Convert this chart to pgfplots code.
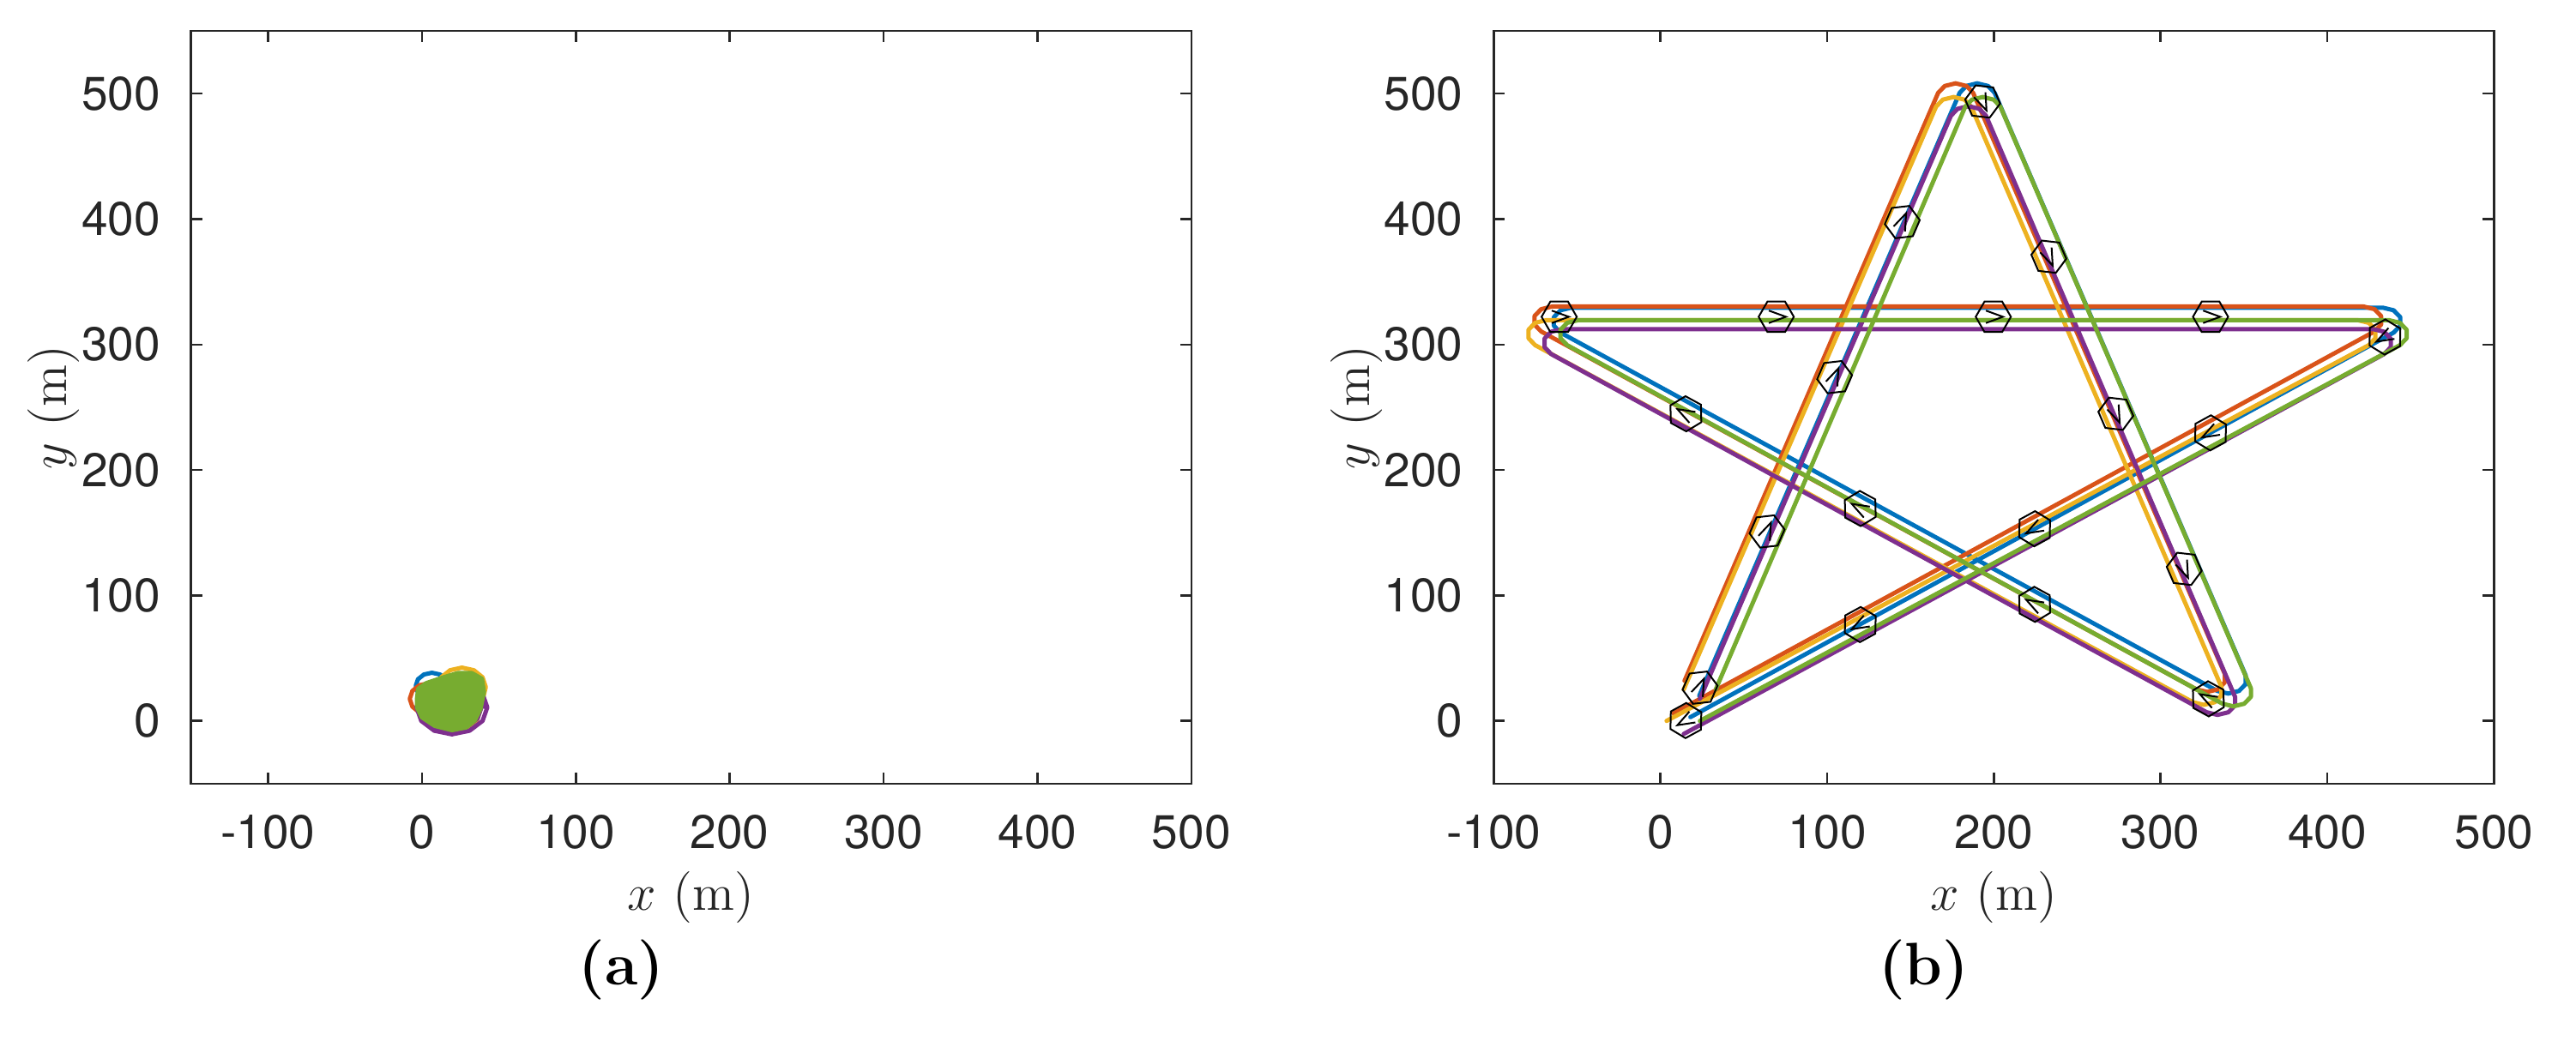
\documentclass[border=0pt]{standalone}
\usepackage{fontspec}
\usepackage{pgfplots}
\pgfplotsset{compat=1.18}
\newfontfamily\heros{TeX Gyre Heros}
\definecolor{mblue}{RGB}{0,114,189}
\definecolor{morange}{RGB}{217,83,25}
\definecolor{myellow}{RGB}{237,177,32}
\definecolor{mpurple}{RGB}{126,47,142}
\definecolor{mgreen}{RGB}{119,172,48}
\definecolor{axgray}{RGB}{38,38,38}

% UAV glyph: hexagon with a heading chevron
\pgfdeclareplotmark{uav}{%
  \pgfpathmoveto{\pgfqpointpolar{0}{\pgfplotmarksize}}%
  \pgfpathlineto{\pgfqpointpolar{60}{\pgfplotmarksize}}%
  \pgfpathlineto{\pgfqpointpolar{120}{\pgfplotmarksize}}%
  \pgfpathlineto{\pgfqpointpolar{180}{\pgfplotmarksize}}%
  \pgfpathlineto{\pgfqpointpolar{240}{\pgfplotmarksize}}%
  \pgfpathlineto{\pgfqpointpolar{300}{\pgfplotmarksize}}%
  \pgfpathclose
  \pgfpathmoveto{\pgfqpointpolar{140}{0.55\pgfplotmarksize}}%
  \pgfpathlineto{\pgfqpointpolar{0}{0.55\pgfplotmarksize}}%
  \pgfpathlineto{\pgfqpointpolar{220}{0.55\pgfplotmarksize}}%
  \pgfusepathqstroke
}

\pgfplotsset{
  mstyle/.style={
    scale only axis, width=233pt, height=175.4pt,
    ymin=-50, ymax=550,
    ytick={0,100,200,300,400,500}, yticklabels={0,100,200,300,400,500},
    xtick={-100,0,100,200,300,400,500}, xticklabels={-100,0,100,200,300,400,500},
    tick align=inside, major tick length=2.6pt,
    axis line style={draw=axgray, line width=0.5pt},
    every tick/.style={draw=axgray, line width=0.5pt},
    ticklabel style={font=\fontsize{11}{13}\heros, text=axgray},
    yticklabel style={xshift=-3.6pt},
    xticklabel style={yshift=-3.7pt},
    xlabel={$x$ (m)}, ylabel={$y$ (m)},
    label style={font=\fontsize{12}{14}\selectfont, text=axgray},
    xlabel style={at={(axis description cs:0.5,-0.151)}, anchor=center},
    ylabel style={at={(axis description cs:-0.1374,0.5)}, anchor=center},
    title style={font=\fontsize{14}{16}\selectfont\bfseries, at={(axis description cs:0.43,-0.2815)}, anchor=center},
  },
  traj/.style={line width=1.0pt, line join=round, line cap=round},
  uavs/.style={only marks, mark=uav, mark size=4.1pt, black, line width=0.4pt},
}

\begin{document}
\begin{tikzpicture}
\useasboundingbox (0,0) rectangle (600pt,245.2pt);

% (a) loitering near the origin
\begin{axis}[mstyle, at={(44.5pt,62.6pt)}, anchor=south west,
  xmin=-150, xmax=500, title={(a)}]
  \addplot[traj, mblue] coordinates {
    (17.0,27.9) (15.6,33.2) (11.8,37.0) (6.5,38.4) (1.3,37.0) (-2.6,33.2) (-4.0,27.9)
    (-2.6,22.7) (1.3,18.8) (6.5,17.4) (11.8,18.8) (15.6,22.7) (17.0,27.9)
    (37,15) (34.7,23.5) (28.5,29.7) (20,32) (11.5,29.7) (5.3,23.5) (3,15)
    (5.3,6.5) (11.5,0.3) (20,-2) (28.5,0.3) (34.7,6.5) (37,15)
  };
  \addplot[traj, morange] coordinates {
    (17.1,17.6) (15.4,23.9) (10.9,28.4) (4.6,30.1) (-1.7,28.4) (-6.2,23.9) (-7.9,17.6)
    (-6.2,11.4) (-1.7,6.8) (4.6,5.1) (10.9,6.8) (15.4,11.4) (17.1,17.6)
    (34,20) (32.1,27) (27,32.1) (20,34) (13,32.1) (7.9,27) (6,20)
    (7.9,13) (13,7.9) (20,6) (27,7.9) (32.1,13) (34,20)
  };
  \addplot[traj, myellow] coordinates {
    (41.5,27) (39.4,34.8) (33.8,40.4) (26,42.5) (18.3,40.4) (12.6,34.8) (10.5,27)
    (12.6,19.3) (18.3,13.6) (26,11.5) (33.8,13.6) (39.4,19.3) (41.5,27)
    (38,9) (35.5,18.5) (28.5,25.5) (19,28) (9.5,25.5) (2.5,18.5) (0,9)
    (2.5,-0.5) (9.5,-7.5) (19,-10) (28.5,-7.5) (35.5,-0.5) (38,9)
  };
  \addplot[traj, mpurple] coordinates {
    (42.5,10.8) (39.4,21.6) (31.0,29.4) (19.5,32.3) (8.0,29.4) (-0.4,21.6) (-3.5,10.8)
    (-0.4,0.0) (8.0,-7.8) (19.5,-10.7) (31.0,-7.8) (39.4,0.0) (42.5,10.8)
    (39,12) (36.2,22) (28.5,29.3) (18,32) (7.5,29.3) (-0.2,22) (-3,12)
    (-0.2,2) (7.5,-5.3) (18,-8) (28.5,-5.3) (36.2,2) (39,12)
  };
  \addplot[traj, mgreen, fill=mgreen] coordinates {
    (-3.2,17.6) (-2.4,25.6) (2.8,30.1) (13.9,34.7) (23.2,38.1) (32.5,38.1)
    (39.0,33.6) (40.3,23.3) (38.1,9.6) (34.4,0.5) (28.8,-5.2) (19.5,-7.4)
    (8.4,-4.0) (0.0,2.8) (-3.2,10.8) (-3.2,17.6)
  };
\end{axis}

% (b) star-shaped formation flight
\begin{axis}[mstyle, at={(347.9pt,62.6pt)}, anchor=south west,
  xmin=-100, xmax=500, title={(b)}]
  \addplot[uavs, mark options={rotate=66.6}] coordinates {
    (23.8,26.5) (64.0,151.0) (104.5,274.0) (145.1,397.6)
  };
  \addplot[uavs, mark options={rotate=-66.6}] coordinates {
    (193.3,493.7) (233.0,370.0) (273.2,244.8) (314.2,121.2)
  };
  \addplot[uavs, mark options={rotate=151.3}] coordinates {
    (328.7,17.6) (224.5,92.9) (119.9,169.3) (15.3,244.8)
  };
  \addplot[uavs, mark options={rotate=0}] coordinates {
    (-60.7,322.1) (69.5,322.1) (199.7,322.1) (330.0,322.1)
  };
  \addplot[uavs, mark options={rotate=208.7}] coordinates {
    (434.6,306.0) (330.0,229.6) (224.5,153.2) (119.9,76.8) (15.3,0.3)
  };

  \addplot[traj, mblue] coordinates {
    (23.3,20.0) (179.5,500.6) (183.5,506.1) (190.0,508.2) (196.5,506.1) (200.5,500.6)
    (351.1,36.2) (351.1,29.4) (347.1,23.9) (340.6,21.8) (334.1,23.9)
    (-59.9,309.5) (-63.9,315.0) (-63.9,321.8) (-59.9,327.3) (-53.4,329.4)
    (433.3,329.4) (439.8,327.3) (443.8,321.8) (443.8,315.0) (439.8,309.5) (18.0,3.0)
  };
  \addplot[traj, morange] coordinates {
    (14.5,32.0) (166.6,500.6) (170.6,506.1) (177.1,508.2) (183.6,506.1) (187.6,500.6)
    (338.5,37.5) (338.5,30.7) (334.5,25.2) (328.0,23.1) (321.5,25.2)
    (-71.5,310.4) (-75.5,315.9) (-75.5,322.7) (-71.5,328.2) (-65.0,330.3)
    (421.8,330.3) (428.3,328.2) (432.3,322.7) (432.3,315.9) (428.3,310.4) (7.8,6.0)
  };
  \addplot[traj, myellow] coordinates {
    (14.0,25.1) (165.4,489.7) (169.4,495.2) (175.9,497.3) (182.4,495.2) (186.4,489.7)
    (336.5,27.2) (336.5,20.4) (332.5,14.9) (326.0,12.8) (319.5,14.9)
    (-75.1,299.5) (-79.1,305.0) (-79.1,311.8) (-75.1,317.3) (-68.6,319.4)
    (418.4,319.4) (424.9,317.3) (428.9,311.8) (428.9,305.0) (424.9,299.5) (3.7,0.0)
  };
  \addplot[traj, mpurple] coordinates {
    (23.7,17.6) (174.3,482.4) (178.3,487.9) (184.8,490.0) (191.3,487.9) (195.3,482.4)
    (344.7,19.2) (344.7,12.4) (340.7,6.9) (334.2,4.8) (327.7,6.9)
    (-65.5,292.4) (-69.5,297.9) (-69.5,304.7) (-65.5,310.2) (-59.0,312.3)
    (427.6,312.3) (434.1,310.2) (438.1,304.7) (438.1,297.9) (434.1,292.4) (14.0,-10.4)
  };
  \addplot[traj, mgreen] coordinates {
    (33.2,25.1) (182.9,489.7) (186.9,495.2) (193.4,497.3) (199.9,495.2) (203.9,489.7)
    (354.2,26.0) (354.2,19.2) (350.2,13.7) (343.7,11.6) (337.2,13.7)
    (-55.9,299.5) (-59.9,305.0) (-59.9,311.8) (-55.9,317.3) (-49.4,319.4)
    (437.1,319.4) (443.6,317.3) (447.6,311.8) (447.6,305.0) (443.6,299.5) (23.7,0.0)
  };
\end{axis}
\end{tikzpicture}
\end{document}
